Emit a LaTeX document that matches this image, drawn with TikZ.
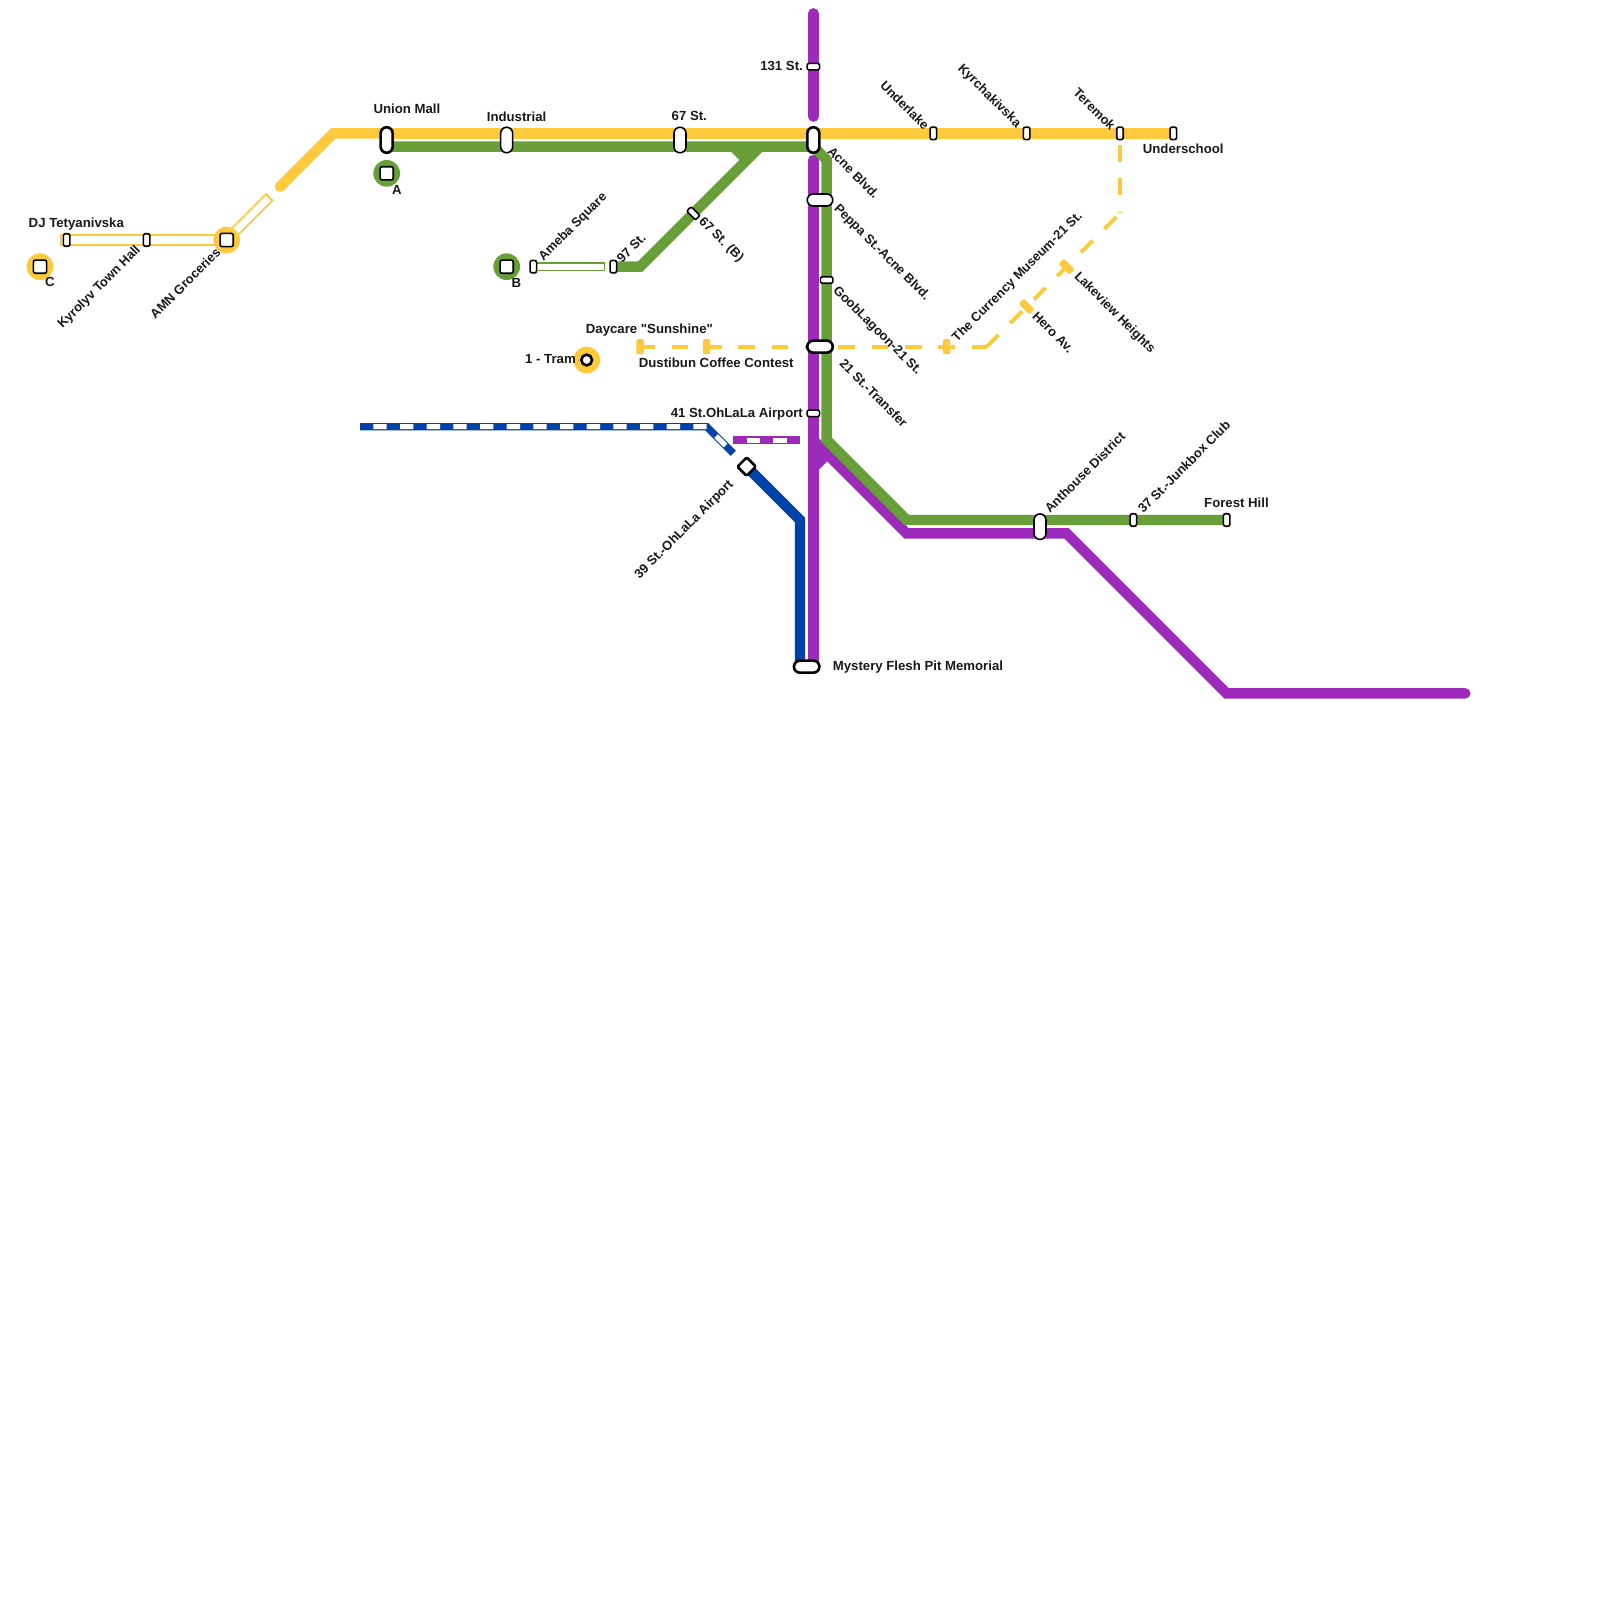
\documentclass[tikz,border=0pt]{standalone}
\usepackage{fontspec}
\setmainfont{Liberation Sans}[Ligatures=TeXOff]
\usepackage{xcolor}
\usetikzlibrary{backgrounds}
\definecolor{lineyellow}{HTML}{FFC93C}
\definecolor{linegreen}{HTML}{689F38}
\definecolor{linepurple}{HTML}{9C2ABB}
\definecolor{lineblue}{HTML}{0041AA}

\begin{document}
\begin{tikzpicture}[
  x=13.3333pt,y=-13.3333pt,
  thickline/.style={line width=10.4pt},
  rounded end/.style={line cap=round},
  hollowouter/.style={line width=#1},
  hollowinner/.style={white,line width=#1},
  dashinner/.style={white,line width=5pt,dash pattern=on 13.333pt off 13.333pt,dash phase=13.333pt},
  yellowdash/.style={lineyellow,line width=4pt,dash pattern=on 16.667pt off 16.667pt},
  lbl/.style={inner sep=0pt,font=\fontsize{13.2}{16}\selectfont\bfseries,text=black!90},
  lblh/.style={lbl,yshift=-1pt},
  lblup/.style={lbl,font=\fontsize{12.9}{16}\selectfont\bfseries,rotate=45},
  lbldown/.style={lbl,font=\fontsize{12.9}{16}\selectfont\bfseries,rotate=-45},
  stn/.style={draw=black,fill=white,line width=1.6pt,inner sep=0pt,rounded corners=2pt,
    minimum width=6.5pt,minimum height=12.5pt},
  stnh/.style={stn,minimum width=12.5pt,minimum height=6.5pt},
  bigv/.style={stn,rounded corners=6pt,minimum width=12pt,minimum height=25.5pt},
  bigh/.style={stn,rounded corners=6pt,minimum width=25.5pt,minimum height=12pt},
  heavy/.style={line width=2.6pt},
  ring/.style={circle,fill=#1,inner sep=0pt,minimum size=26.7pt},
  squarestn/.style={stn,minimum width=13.2pt,minimum height=13.2pt},
  tick/.style={fill=lineyellow,inner sep=0pt,rounded corners=2pt,minimum width=7.5pt,minimum height=15pt},
  tickd/.style={fill=lineyellow,inner sep=0pt,rounded corners=2pt,minimum width=15pt,minimum height=7.5pt,rotate=-45}
]
\path[use as bounding box] (0,0) rectangle (120,120);

\coordinate (yellowstart) at (21,14);
\coordinate (yellowbend) at (25,10);
\coordinate (yellowunion) at (29,10);
\coordinate (hollowtip) at (20.25,14.75);
\coordinate (hollowtipin) at (20.13,14.87);
\coordinate (hollowend) at (4.5,18);
\coordinate (hollowendin) at (4.65,18);
\coordinate (greenstart) at (29,11);
\coordinate (greenacne) at (61,11);
\coordinate (greenbendA) at (62,12);
\coordinate (greenbendB) at (62,33);
\coordinate (greenbendC) at (68,39);
\coordinate (greenbendD) at (48,20);
\coordinate (greenfork) at (57,11);
\coordinate (stubtop) at (55,11);
\coordinate (stubend) at (56,12);
\coordinate (hollowgreen) at (45.4,20);
\coordinate (hollowgreenin) at (45.3,20);
\coordinate (purpletop) at (61,1);
\coordinate (purplegap) at (61,8.75);
\coordinate (purplelow) at (61,12);
\coordinate (purplefork) at (61,33);
\coordinate (purplebendA) at (68,40);
\coordinate (purplebendB) at (80,40);
\coordinate (purplebendC) at (92,52);
\coordinate (purpleend) at (109.9,52);
\coordinate (stubbase) at (61,35);
\coordinate (stubjoin) at (62,34);
\coordinate (purpledashA) at (55,33);
\coordinate (purpledashB) at (60,33);
\coordinate (bluestart) at (27,32);
\coordinate (bluebend) at (53,32);
\coordinate (blueend) at (55,34);
\coordinate (bluebendB) at (60,39);
\coordinate (dashbend) at (74,26);
\coordinate (dashtop) at (84,16);

\node[ring=lineyellow] (ringc) at (3,20) {};
\node[squarestn] (exitc) at (ringc) {};
\node[ring=linegreen] (ringa) at (29,13) {};
\node[squarestn] (exita) at (ringa) {};
\node[ring=linegreen] (ringb) at (38,20) {};
\node[squarestn] (exitb) at (ringb) {};
\node[ring=lineyellow] (ringamn) at (17,18) {};
\node[squarestn] (amn) at (ringamn) {};
\node[ring=lineyellow] (ringtram) at (44,27) {};
\node[circle,draw=black,fill=white,line width=2.6pt,inner sep=0pt,minimum size=10.7pt] (tram) at (ringtram) {};

\node[stn] (tetyanivska) at (5,18) {};
\node[stn] (kyrolyv) at (11,18) {};
\node[bigv,heavy] (unionmall) at (29,10.5) {};
\node[bigv] (industrial) at (38,10.5) {};
\node[bigv] (sixtyseven) at (51,10.5) {};
\node[bigv,heavy] (acne) at (61,10.5) {};
\node[stn] (underlake) at (70,10) {};
\node[stn] (kyrchakivska) at (77,10) {};
\node[stn] (teremok) at (84,10) {};
\node[stn] (underschool) at (88,10) {};
\node[stnh] (onethirtyone) at (61,5) {};
\node[bigh] (peppa) at (61.5,15) {};
\node[stnh] (goob) at (62,21) {};
\node[bigh,heavy] (transfer) at (61.5,26) {};
\node[stnh] (fortyone) at (61,31) {};
\node[stn] (ameba) at (40,20) {};
\node[stn] (ninetyseven) at (46,20) {};
\node[stnh,rotate=-45] (sixtysevenb) at (52,16) {};
\node[bigv] (anthouse) at (78,39.5) {};
\node[stn] (junkbox) at (85,39) {};
\node[stn] (foresthill) at (92,39) {};
\node[bigh,heavy] (mystery) at (60.5,50) {};
\node[stn,heavy,rounded corners=1.5pt,minimum width=13pt,minimum height=13pt,rotate=45] (airport) at (56,35) {};
\node[tick] (daycare) at (48,26) {};
\node[tick] (dustibun) at (53,26) {};
\node[tick] (currency) at (71,26) {};
\node[tickd] (hero) at (77,23) {};
\node[tickd] (lakeview) at (80,20) {};

\node[lblh,anchor=west] (lblunion) at (28,8.1) {Union Mall};
\node[lblh,anchor=west] (lblindustrial) at (36.5,8.65) {Industrial};
\node[lblh,anchor=west] (lblsixtyseven) at (50.36,8.65) {67 St.};
\node[lblh,anchor=west] (lbltetyanivska) at (2.14,16.7) {DJ Tetyanivska};
\node[lblh] (lblc) at (3.75,21.1) {C};
\node[lblh] (lbla) at (29.77,14.16) {A};
\node[lblh] (lblb) at (38.72,21.12) {B};
\node[lblh,anchor=east] (lbl131) at (60.23,4.9) {131 St.};
\node[lblh,anchor=west] (lblunderschool) at (85.7,11.1) {Underschool};
\node[lblh,anchor=west] (lbldaycare) at (43.93,24.7) {Daycare "Sunshine"};
\node[lblh,anchor=west] (lbldustibun) at (47.9,27.13) {Dustibun Coffee Contest};
\node[lblh,anchor=east] (lbltram) at (43.2,26.86) {1 - Tram};
\node[lblh,anchor=east] (lblfortyone) at (60.23,30.95) {41 St.OhLaLa Airport};
\node[lblh,anchor=west] (lblmystery) at (62.45,49.95) {Mystery Flesh Pit Memorial};
\node[lblh,anchor=west] (lblforest) at (90.3,37.65) {Forest Hill};

\node[lblup,anchor=west] (lblameba) at (40.58,19.45) {Ameba Square};
\node[lblup,anchor=west] (lblninetyseven) at (46.42,19.52) {97 St.};
\node[lblup,anchor=west] (lblanthouse) at (78.5,38.3) {Anthouse District};
\node[lblup,anchor=west] (lbljunkbox) at (85.5,38.3) {37 St.-Junkbox Club};
\node[lblup,anchor=west] (lblcurrency) at (71.6,25.5) {The Currency Museum-21 St.};
\node[lblup,anchor=east] (lblkyrolyv) at (10.41,18.6) {Kyrolyv Town Hall};
\node[lblup,anchor=east] (lblamn) at (16.37,18.75) {AMN Groceries};
\node[lblup,anchor=east] (lblairport) at (54.87,36.2) {39 St.-OhLaLa Airport};

\node[lbldown,anchor=west] (lblacne) at (62.25,11.17) {Acne Blvd.};
\node[lbldown,anchor=west] (lblpeppa) at (62.68,15.5) {Peppa St.-Acne Blvd.};
\node[lbldown,anchor=west] (lblgoob) at (62.62,21.65) {GoobLagoon-21 St.};
\node[lbldown,anchor=west] (lbltransfer) at (63.15,27.1) {21 St.-Transfer};
\node[lbldown,anchor=west] (lblsixtysevenb) at (52.55,16.48) {67 St. (B)};
\node[lbldown,anchor=west] (lblhero) at (77.6,23.55) {Hero Av.};
\node[lbldown,anchor=west] (lbllakeview) at (80.7,20.6) {Lakeview Heights};
\node[lbldown,anchor=east] (lblunderlake) at (69.53,9.57) {Underlake};
\node[lbldown,anchor=east] (lblkyrchakivska) at (76.4,9.44) {Kyrchakivska};
\node[lbldown,anchor=east] (lblteremok) at (83.5,9.59) {Teremok};

\begin{scope}[on background layer]
\fill[white] (0,0) rectangle (120,120);
% hollow stretches
\draw[lineyellow,hollowouter=12pt] (hollowend) -- (amn.center);
\draw[lineyellow,hollowouter=10.5pt] (amn.center) -- (hollowtip);
\draw[hollowinner=8pt] (hollowendin) -- (amn.center);
\draw[hollowinner=7pt] (amn.center) -- (hollowtipin);
\draw[linegreen,hollowouter=9pt] (ameba.center) -- (hollowgreen);
\draw[hollowinner=5.8pt] (ameba.center) -- (hollowgreenin);
% purple
\draw[linepurple,thickline,rounded end] (purpletop) -- (purplegap);
\draw[linepurple,thickline,rounded end] (purplelow) -- (mystery.center -| purplelow);
\draw[linepurple,thickline,rounded end] (purplefork) -- (purplebendA) -- (purplebendB) -- (purplebendC) -- (purpleend);
\draw[linepurple,line width=12pt] (stubbase) -- (stubjoin);
% green
\draw[linegreen,thickline] (greenstart) -- (greenacne) -- (greenbendA) -- (greenbendB) -- (greenbendC) -- (foresthill.center);
\draw[linegreen,thickline] (ninetyseven.center) -- (greenbendD) -- (greenfork);
\draw[linegreen,thickline] (stubtop) -- (stubend);
% yellow
\draw[lineyellow,thickline,rounded end] (yellowstart) -- (yellowbend) -- (yellowunion);
\draw[lineyellow,thickline] (yellowunion) -- (underschool.center);
\draw[yellowdash,dash phase=1.667pt] (daycare.center) -- (dashbend);
\draw[yellowdash] (dashbend) -- (dashtop);
\draw[yellowdash,dash phase=21.667pt] (teremok.center) -- (dashtop);
% blue
\draw[lineblue,thickline] (airport.center) -- (bluebendB) -- (mystery.center -| bluebendB);
\draw[lineblue,line width=7.2pt] (bluestart) -- (bluebend) -- (blueend);
\draw[dashinner] (bluestart) -- (bluebend) -- (blueend);
\draw[linepurple,line width=7.2pt] (purpledashA) -- (purpledashB);
\draw[dashinner] (purpledashA) -- (purpledashB);
\end{scope}
\end{tikzpicture}
\end{document}
